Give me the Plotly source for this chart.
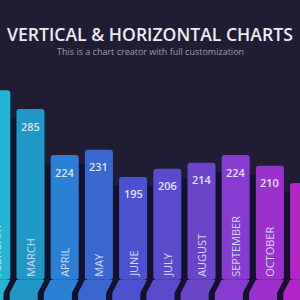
import plotly.graph_objects as go

months = ["FEBRUARY", "MARCH", "APRIL", "MAY", "JUNE", "JULY", "AUGUST",
          "SEPTEMBER", "OCTOBER", "NOVEMBER"]
values = [310, 285, 224, 231, 195, 206, 214, 224, 210, 187]
colors = ["#22b6d3", "#2098c6", "#2a80d5", "#3868cf", "#4c52cf", "#5a4bcd",
          "#6c44c8", "#873bd0", "#9b30cd", "#b325c8"]

title = "VERTICAL & HORIZONTAL CHARTS"
subtitle = "This is a chart creator with full customization"

BG = "#1f1c33"
SHADOW = "#14112a"
W = 0.82          # bar width (category units)
FOLD_TOP = 58.5   # value where the bar bends
FOLD_BOT = 41.0   # value where the bend ends
SHIFT = 0.2       # horizontal shift of the lower segment

xs = list(range(len(values)))
fig = go.Figure()

# shadow strips between neighbouring bars (upper part)
mid_x = [i + 0.5 for i in xs[:-1]]
mid_h = [min(values[i], values[i + 1]) - 12 - FOLD_TOP for i in xs[:-1]]
fig.add_trace(go.Bar(x=mid_x, y=mid_h, base=[FOLD_TOP] * len(mid_x), width=0.4,
                     marker=dict(color=SHADOW, line=dict(width=0)),
                     hoverinfo="skip", showlegend=False))

# main upper bars, month names drawn inside at the base
fig.add_trace(go.Bar(x=xs, y=[v - FOLD_TOP for v in values], base=[FOLD_TOP] * len(values),
                     width=W, marker=dict(color=colors, cornerradius=3, line=dict(width=0)),
                     text=months, textposition="inside", insidetextanchor="start",
                     textangle=-90, constraintext="none",
                     insidetextfont=dict(family="Open Sans", size=11, color="#d0d8f0"),
                     hoverinfo="skip", showlegend=False))

shapes = [dict(type="rect", xref="paper", yref="y", x0=0, x1=1, y0=0, y1=FOLD_TOP,
               fillcolor=SHADOW, line=dict(width=0), layer="below")]
for i, c in zip(xs, colors):
    l, r = i - W / 2, i + W / 2
    path = (f"M {l},{FOLD_TOP} L {r},{FOLD_TOP} L {r - SHIFT},{FOLD_BOT} "
            f"L {r - SHIFT},0 L {l - SHIFT},0 L {l - SHIFT},{FOLD_BOT} Z")
    shapes.append(dict(type="path", xref="x", yref="y", path=path,
                       fillcolor=c, line=dict(width=0), layer="below"))

for i, v in enumerate(values):
    fig.add_annotation(x=i, y=v, xref="x", yref="y", text=str(v), showarrow=False,
                       yanchor="middle", yshift=-17,
                       font=dict(family="Open Sans", size=11, color="#dfe2f4", weight=600))

fig.add_annotation(x=0.5, y=1 - 34 / 300, xref="paper", yref="paper", text=title,
                   showarrow=False, yanchor="middle",
                   font=dict(family="Open Sans", size=17.6, color="#ececf4", weight=600))
fig.add_annotation(x=0.5, y=1 - 51 / 300, xref="paper", yref="paper", text=subtitle,
                   showarrow=False, yanchor="middle",
                   font=dict(family="Open Sans", size=9, color="#9c9bb4"))

fig.update_layout(
    width=300, height=300, margin=dict(l=0, r=0, t=0, b=0),
    paper_bgcolor=BG, plot_bgcolor=BG, barmode="overlay",
    shapes=shapes, showlegend=False,
    xaxis=dict(range=[0.108, 8.88], visible=False, fixedrange=True),
    yaxis=dict(range=[31.8, 429.7], visible=False, fixedrange=True),
)
fig.write_html("out.html", config={"displayModeBar": False})
